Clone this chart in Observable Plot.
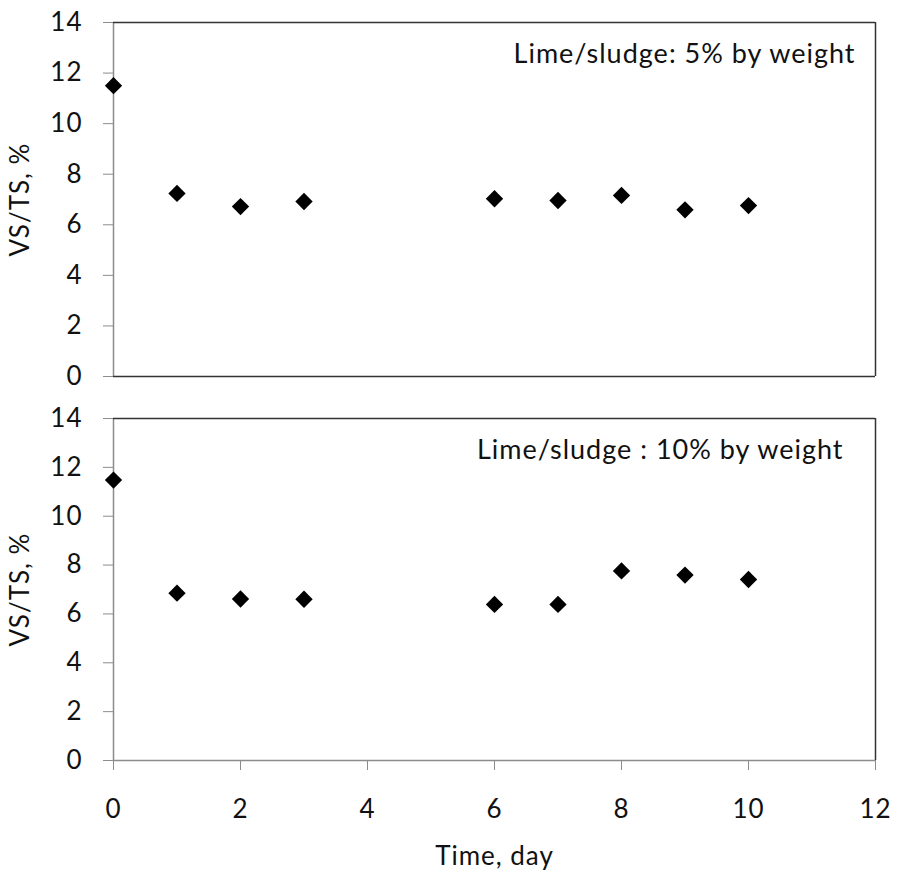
<!DOCTYPE html>
<html>
<head>
<meta charset="utf-8">
<script src="https://cdn.jsdelivr.net/npm/d3@7"></script>
<script src="https://cdn.jsdelivr.net/npm/@observablehq/plot@0.6"></script>
<style>
  body { margin: 0; background: #fff; }
  #chart { position: relative; width: 897px; height: 880px; background: #fff; }
  #chart svg { position: absolute; left: 0; }
</style>
</head>
<body>
<div id="chart"></div>
<script>
// Data
const days = [0, 1, 2, 3, 6, 7, 8, 9, 10];
const vsts5 = [11.5, 7.24, 6.72, 6.92, 7.03, 6.96, 7.16, 6.59, 6.76];
const vsts10 = [11.48, 6.85, 6.61, 6.6, 6.39, 6.39, 7.76, 7.59, 7.41];
const panelLabels = ["Lime/sludge: 5% by weight", "Lime/sludge : 10% by weight"];
const xTicks = [0, 2, 4, 6, 8, 10, 12];
const yTicks = [0, 2, 4, 6, 8, 10, 12, 14];
const xLabel = "Time, day";
const yLabel = "VS/TS, %";

const font = "Lato, 'Open Sans', sans-serif";
const fontSize = 26;
const grey = "#8c8c8c";
const dark = "#333";

function panel(values, label, isBottom) {
  const rows = days.map((d, i) => ({day: d, v: values[i]}));
  const marks = [
    Plot.axisY(yTicks, {
      tickSize: 10, tickPadding: 21, stroke: grey, fill: "#111",
      fontSize, label: yLabel, labelAnchor: "center", labelArrow: "none", labelOffset: 103
    }),
    Plot.ruleX([0], {stroke: grey, strokeWidth: 1.5}),
    Plot.ruleY([14], {stroke: dark, strokeWidth: 1.5}),
    Plot.ruleX([12], {stroke: dark, strokeWidth: 1.5}),
    Plot.ruleY([0], {stroke: isBottom ? grey : dark, strokeWidth: 1.5}),
    Plot.dot(rows, {x: "day", y: "v", symbol: "diamond2", r: 7.8, fill: "#000", stroke: "none"}),
    Plot.text([label], {frameAnchor: "top-right", dx: isBottom ? -32 : -20, dy: 21, text: d => d, fontSize: 27, fill: "#111", textAnchor: "end", lineAnchor: "top"})
  ];
  if (isBottom) {
    marks.push(Plot.axisX(xTicks, {
      tickSize: 10, tickPadding: 29, stroke: grey, fill: "#111", fontSize,
      label: xLabel, labelAnchor: "center", labelArrow: "none", labelOffset: 104
    }));
  }
  return Plot.plot({
    width: 897,
    height: isBottom ? 488 : 392,
    marginLeft: 113,
    marginRight: 22,
    marginTop: isBottom ? 26 : 22,
    marginBottom: isBottom ? 120 : 16,
    style: {fontFamily: font, fontSize: fontSize + "px", color: "#111", background: "transparent", letterSpacing: "1px"},
    x: {domain: [0, 12], axis: isBottom ? undefined : null},
    y: {domain: [0, 14]},
    marks
  });
}

const chart = document.getElementById("chart");
const topPanel = panel(vsts5, panelLabels[0], false);
topPanel.style.top = "0px";
const bottomPanel = panel(vsts10, panelLabels[1], true);
bottomPanel.style.top = "392px";
chart.appendChild(topPanel);
chart.appendChild(bottomPanel);
</script>
</body>
</html>
